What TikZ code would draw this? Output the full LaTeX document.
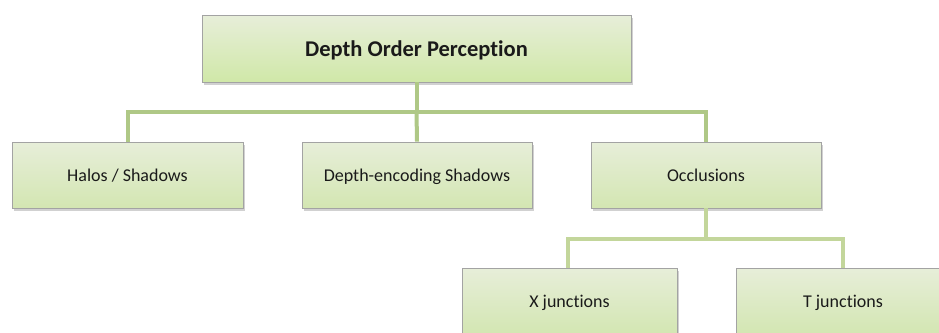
\documentclass[tikz,border=0pt]{standalone}
\usepackage{fontspec}
\setmainfont{Carlito}[Ligatures=NoCommon]
\usetikzlibrary{shadows}
\definecolor{conn}{HTML}{AFC886}
\definecolor{conn2}{HTML}{C3D69B}
\definecolor{boxtop}{HTML}{E7EED9}
\definecolor{boxbot}{HTML}{D3E6B2}
\definecolor{topbot}{HTML}{D0E8A8}
\definecolor{edge}{HTML}{A3A3A3}
\definecolor{txt}{HTML}{1A1A1A}
\tikzset{
  box/.style={draw=edge, line width=0.9pt, top color=boxtop, bottom color=boxbot,
    drop shadow={shadow xshift=2pt, shadow yshift=-2.5pt, opacity=0.3, fill=black!60},
    minimum height=66pt, inner sep=0pt, text height=15pt, text depth=2pt,
    text=txt, font=\fontsize{18}{21}\selectfont},
  conn/.style={draw=conn, line width=4pt},
  conn2/.style={draw=conn2, line width=4pt}
}
\begin{document}
\begin{tikzpicture}[x=1pt,y=-1pt]
\useasboundingbox (0,0) rectangle (939,332);
\node[box, minimum width=429pt, minimum height=67pt, bottom color=topbot, text height=17pt, text depth=2pt, font=\fontsize{22.5}{26}\selectfont\bfseries] (top) at (416.5,48.5) {Depth Order Perception};
\node[box, minimum width=231pt] (halo) at (127.5,175) {Halos / Shadows};
\node[box, minimum width=230pt] (dep) at (417,175) {Depth-encoding Shadows};
\node[box, minimum width=230pt] (occ) at (706,175) {Occlusions};
\node[box, minimum width=215pt] (xj) at (569.5,301) {X junctions};
\node[box, minimum width=214pt] (tj) at (843,301) {T junctions};
\coordinate (h1) at (416.5,112);
\coordinate (h2) at (706,239);
\coordinate (hl) at (127.5,112);
\coordinate (hr) at (706,112);
\coordinate (gl) at (568,239);
\coordinate (gr) at (843,239);
\begin{scope}[on background layer/.try]
\draw[conn] (top.south) -- (h1);
\draw[conn] (halo.north) -- (hl) -- (hr) -- (occ.north);
\draw[conn] (h1) -- (dep.north);
\draw[conn2] (occ.south) -- (h2);
\draw[conn2] (xj.north -| gl) -- (gl) -- (gr) -- (tj.north);
\end{scope}
\end{tikzpicture}
\end{document}
